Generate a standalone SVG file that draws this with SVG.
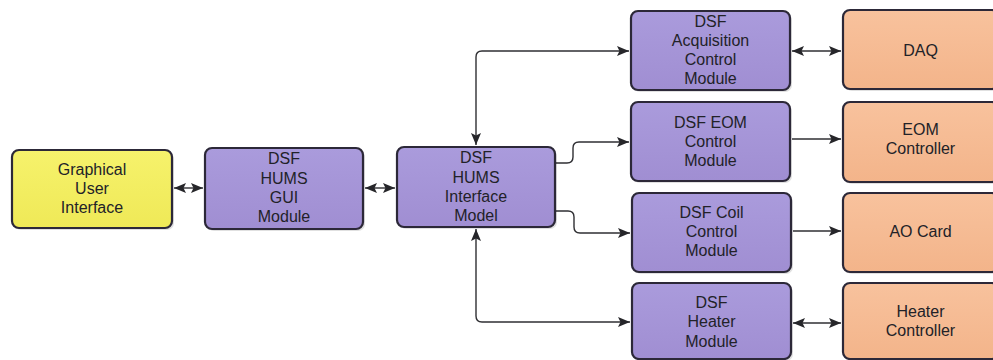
<svg xmlns="http://www.w3.org/2000/svg" width="993" height="360" viewBox="0 0 993 360">
  <defs>
    <marker id="arrow" markerUnits="userSpaceOnUse" markerWidth="14" markerHeight="12" refX="12" refY="5" orient="auto-start-reverse">
      <path d="M0,0 L12,5 L0,10 L2.5,5 z" fill="#26262a"/>
    </marker>
    <linearGradient id="gPurple" x1="0" y1="0" x2="0" y2="1">
      <stop offset="0" stop-color="#aa9bdc"/>
      <stop offset="1" stop-color="#a08ed2"/>
    </linearGradient>
    <linearGradient id="gYellow" x1="0" y1="0" x2="0" y2="1">
      <stop offset="0" stop-color="#f6f26c"/>
      <stop offset="1" stop-color="#efe957"/>
    </linearGradient>
    <linearGradient id="gOrange" x1="0" y1="0" x2="0" y2="1">
      <stop offset="0" stop-color="#f8c29d"/>
      <stop offset="1" stop-color="#f3b48a"/>
    </linearGradient>
  </defs>
  <style>
    .box { stroke: #2c2838; stroke-width: 2.2; }
    .shadow { fill: #000; opacity: 0.12; }
    .purple { fill: url(#gPurple); }
    .yellow { fill: url(#gYellow); }
    .orange { fill: url(#gOrange); }
    text { font-family: "Liberation Sans", Arial, sans-serif; font-size: 16px; fill: #222228; text-anchor: middle; }
    .conn { fill: none; stroke: #2f2f33; stroke-width: 1.4; }
  </style>

  <rect width="993" height="360" fill="#ffffff"/>

  <!-- connectors between modules -->
  <g id="connectors">
    <path class="conn" d="M174,188 H203" marker-start="url(#arrow)" marker-end="url(#arrow)"/>
    <path class="conn" d="M365,188 H395" marker-start="url(#arrow)" marker-end="url(#arrow)"/>
    <path class="conn" d="M629,51 H482 Q476,51 476,57 V145" marker-start="url(#arrow)" marker-end="url(#arrow)"/>
    <path class="conn" d="M556,163 H567 Q573,163 573,157 V148 Q573,142 579,142 H629" marker-end="url(#arrow)"/>
    <path class="conn" d="M556,211 H568 Q574,211 574,217 V227 Q574,233 580,233 H630" marker-end="url(#arrow)"/>
    <path class="conn" d="M476,229 V316 Q476,322 482,322 H630" marker-start="url(#arrow)" marker-end="url(#arrow)"/>
    <path class="conn" d="M792,51 H841" marker-start="url(#arrow)" marker-end="url(#arrow)"/>
    <path class="conn" d="M792,139 H841" marker-end="url(#arrow)"/>
    <path class="conn" d="M793,231 H841" marker-end="url(#arrow)"/>
    <path class="conn" d="M793,323 H841" marker-start="url(#arrow)" marker-end="url(#arrow)"/>
  </g>

  <g id="gui">
    <rect class="shadow" x="14" y="152" width="160" height="78" rx="7"/>
    <rect class="box yellow" x="12" y="150" width="160" height="78" rx="7"/>
    <text x="92" y="175">Graphical</text>
    <text x="92" y="194">User</text>
    <text x="92" y="213">Interface</text>
  </g>

  <g id="hums-gui">
    <rect class="shadow" x="207" y="150" width="158" height="81" rx="7"/>
    <rect class="box purple" x="205" y="148" width="158" height="81" rx="7"/>
    <text x="284" y="164">DSF</text>
    <text x="284" y="183.5">HUMS</text>
    <text x="284" y="203">GUI</text>
    <text x="284" y="222">Module</text>
  </g>

  <g id="hums-interface">
    <rect class="shadow" x="399" y="149" width="158" height="80" rx="7"/>
    <rect class="box purple" x="397" y="147" width="158" height="80" rx="7"/>
    <text x="476" y="163">DSF</text>
    <text x="476" y="183">HUMS</text>
    <text x="476" y="202">Interface</text>
    <text x="476" y="221">Model</text>
  </g>

  <g id="acquisition">
    <rect class="shadow" x="633" y="13" width="159" height="79" rx="7"/>
    <rect class="box purple" x="631" y="11" width="159" height="79" rx="7"/>
    <text x="710.5" y="26.5">DSF</text>
    <text x="710.5" y="45.5">Acquisition</text>
    <text x="710.5" y="64.5">Control</text>
    <text x="710.5" y="83.5">Module</text>
  </g>

  <g id="eom-module">
    <rect class="shadow" x="633" y="104" width="159" height="79" rx="7"/>
    <rect class="box purple" x="631" y="102" width="159" height="79" rx="7"/>
    <text x="710.5" y="128">DSF EOM</text>
    <text x="710.5" y="147">Control</text>
    <text x="710.5" y="166">Module</text>
  </g>

  <g id="coil-module">
    <rect class="shadow" x="634" y="195" width="159" height="79" rx="7"/>
    <rect class="box purple" x="632" y="193" width="159" height="79" rx="7"/>
    <text x="711.5" y="218">DSF Coil</text>
    <text x="711.5" y="237">Control</text>
    <text x="711.5" y="256">Module</text>
  </g>

  <g id="heater-module">
    <rect class="shadow" x="634" y="285" width="159" height="76" rx="7"/>
    <rect class="box purple" x="632" y="283" width="159" height="76" rx="7"/>
    <text x="711.5" y="308">DSF</text>
    <text x="711.5" y="327">Heater</text>
    <text x="711.5" y="346.5">Module</text>
  </g>

  <g id="daq">
    <rect class="shadow" x="845" y="12" width="156" height="79" rx="7"/>
    <rect class="box orange" x="843" y="10" width="156" height="79" rx="7"/>
    <text x="920.5" y="56">DAQ</text>
  </g>

  <g id="eom-controller">
    <rect class="shadow" x="845" y="104" width="156" height="80" rx="7"/>
    <rect class="box orange" x="843" y="102" width="156" height="80" rx="7"/>
    <text x="920.5" y="135">EOM</text>
    <text x="920.5" y="154">Controller</text>
  </g>

  <g id="ao-card">
    <rect class="shadow" x="845" y="195" width="156" height="79" rx="7"/>
    <rect class="box orange" x="843" y="193" width="156" height="79" rx="7"/>
    <text x="920.5" y="237">AO Card</text>
  </g>

  <g id="heater-controller">
    <rect class="shadow" x="845" y="285" width="156" height="76" rx="7"/>
    <rect class="box orange" x="843" y="283" width="156" height="76" rx="7"/>
    <text x="920.5" y="317">Heater</text>
    <text x="920.5" y="336">Controller</text>
  </g>
</svg>
